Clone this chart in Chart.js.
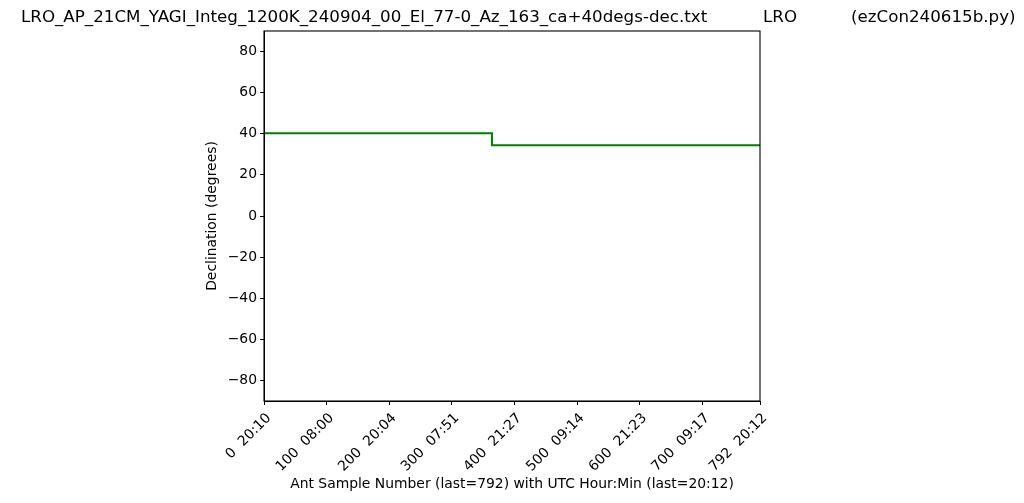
<!DOCTYPE html>
<html>
<head>
<meta charset="utf-8">
<script src="https://cdn.jsdelivr.net/npm/chart.js@4"></script>
<style>
  html, body { margin: 0; padding: 0; background: #fff; }
  #wrap { width: 1024px; height: 503px; }
</style>
</head>
<body>
<div id="wrap"><canvas id="chart" width="1024" height="503"></canvas></div>
<script>
// data
const sampleNums = [0, 364, 364, 792];
const declination = [40.2, 40.2, 34.4, 34.4];

const tickSamples = [0, 100, 200, 300, 400, 500, 600, 700, 792];
const tickTimes = ['20:10', '08:00', '20:04', '07:51', '21:27', '09:14', '21:23', '09:17', '20:12'];
const yTicks = [-80, -60, -40, -20, 0, 20, 40, 60, 80];

const titleParts = [
  { text: 'LRO_AP_21CM_YAGI_Integ_1200K_240904_00_El_77-0_Az_163_ca+40degs-dec.txt', x: 21 },
  { text: 'LRO', x: 763 },
  { text: '(ezCon240615b.py)', x: 851 },
];

const FONT = 'DejaVu Sans';

// title line and the box round the plot
const framePlugin = {
  id: 'frame',
  afterDraw(chart) {
    const { ctx, chartArea: a } = chart;
    ctx.save();
    ctx.strokeStyle = '#000';
    ctx.lineWidth = 1.1;
    ctx.strokeRect(a.left, a.top, a.right - a.left, a.bottom - a.top);
    ctx.fillStyle = '#000';
    ctx.font = '16.7px "' + FONT + '"';
    ctx.textBaseline = 'alphabetic';
    titleParts.forEach(p => ctx.fillText(p.text, p.x, 22));
    ctx.restore();
  }
};

const ctx = document.getElementById('chart').getContext('2d');

new Chart(ctx, {
  type: 'line',
  data: {
    datasets: [{
      data: sampleNums.map((x, i) => ({ x: x, y: declination[i] })),
      borderColor: '#008000',
      borderWidth: 2,
      pointRadius: 0,
      fill: false,
      tension: 0,
    }]
  },
  options: {
    responsive: false,
    animation: false,
    layout: { padding: { left: 200, top: 31, right: 264, bottom: 0 } },
    plugins: {
      legend: { display: false },
      tooltip: { enabled: false },
    },
    scales: {
      x: {
        type: 'linear',
        min: 0,
        max: 792,
        afterBuildTicks: (scale) => { scale.ticks = tickSamples.map(v => ({ value: v })); },
        afterFit: (scale) => { scale.height = 102; },
        ticks: {
          minRotation: 45,
          maxRotation: 45,
          padding: 5,
          labelOffset: 5,
          color: '#000',
          font: { family: FONT, size: 13.9 },
          callback: (v) => {
            const i = tickSamples.indexOf(v);
            return i < 0 ? '' : v + '  ' + tickTimes[i];
          }
        },
        grid: { drawOnChartArea: false, tickLength: 4, color: '#000', lineWidth: 1 },
        border: { color: '#000', width: 1 },
        title: {
          display: true,
          text: 'Ant Sample Number (last=792) with UTC Hour:Min (last=20:12)',
          color: '#000',
          font: { family: FONT, size: 13.9 },
          padding: { top: 0, bottom: 10 },
        },
      },
      y: {
        min: -90,
        max: 90,
        afterBuildTicks: (scale) => { scale.ticks = yTicks.map(v => ({ value: v })); },
        afterFit: (scale) => { scale.width = 64; },
        ticks: {
          padding: 3,
          color: '#000',
          font: { family: FONT, size: 13.9 },
          callback: (v) => String(v).replace('-', '\u2212'),
        },
        grid: { drawOnChartArea: false, tickLength: 4, color: '#000', lineWidth: 1 },
        border: { color: '#000', width: 1 },
        title: {
          display: true,
          text: 'Declination (degrees)',
          color: '#000',
          font: { family: FONT, size: 13.9 },
          padding: { top: 4, bottom: 4 },
        },
      },
    },
  },
  plugins: [framePlugin],
});
</script>
</body>
</html>
